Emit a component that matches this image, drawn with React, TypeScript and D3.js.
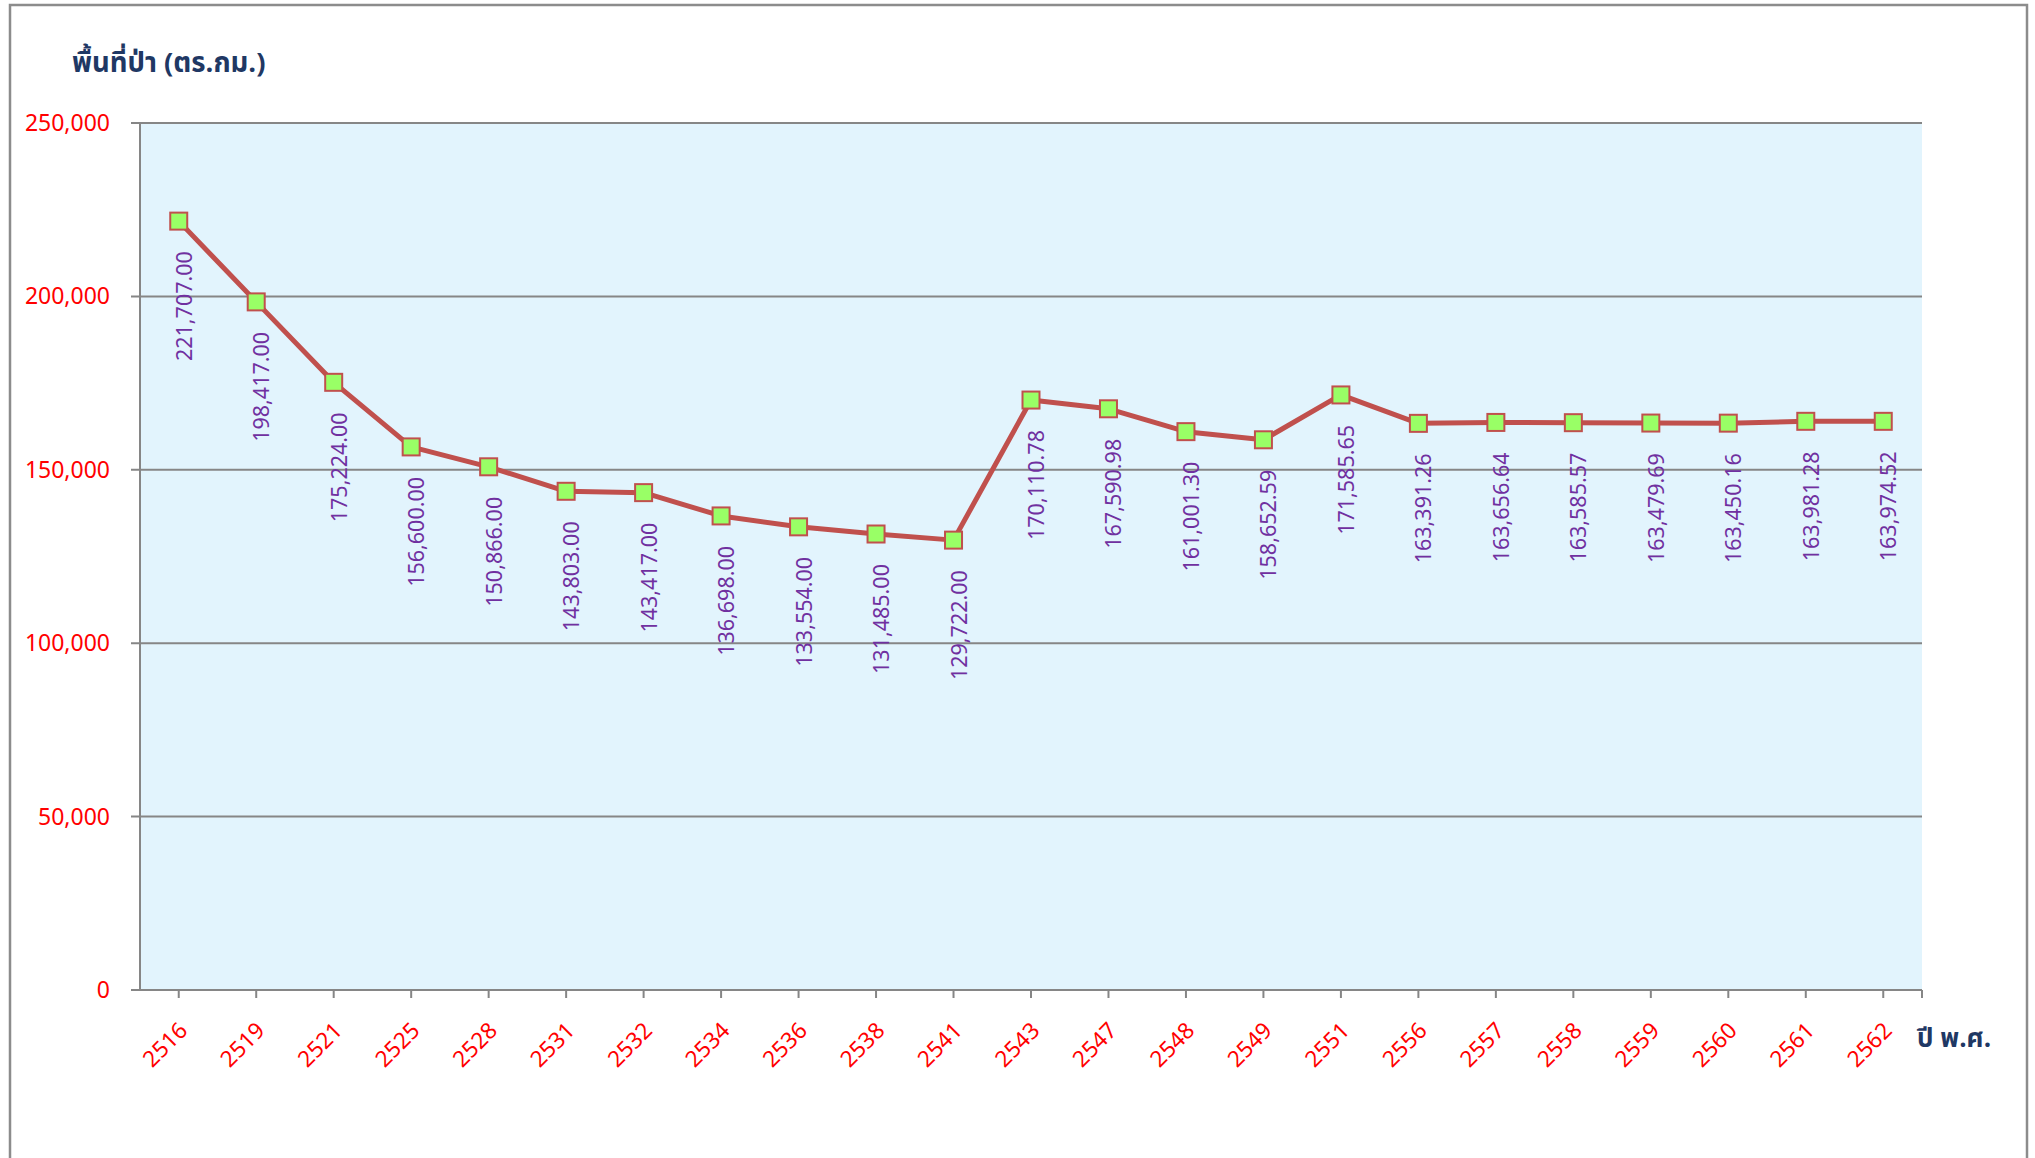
import React from 'react'
import * as d3 from 'd3'

// forest area by Buddhist-era year
const years = ['2516', '2519', '2521', '2525', '2528', '2531', '2532', '2534', '2536', '2538', '2541', '2543',
  '2547', '2548', '2549', '2551', '2556', '2557', '2558', '2559', '2560', '2561', '2562']
const forestArea = [221707, 198417, 175224, 156600, 150866, 143803, 143417, 136698, 133554, 131485, 129722,
  170110.78, 167590.98, 161001.30, 158652.59, 171585.65, 163391.26, 163656.64, 163585.57, 163479.69,
  163450.16, 163981.28, 163974.52]
const yTicks = [0, 50000, 100000, 150000, 200000, 250000]

const W = 2035
const H = 1158
const plot = { left: 140, right: 1922, top: 123, bottom: 990 }

const lineColor = '#C0504D'
const gridColor = '#868686'
const navy = '#1F3864'
const thaiFont = '"Noto Sans Thai", Tahoma, "Noto Sans", sans-serif'
const numFont = 'Tahoma, "Noto Sans", sans-serif'

export default function App() {
  const x = d3.scaleBand<string>().domain(years).range([plot.left, plot.right])
  const y = d3.scaleLinear().domain([0, 250000]).range([plot.bottom, plot.top])
  const cx = (yr: string) => (x(yr) as number) + x.bandwidth() / 2

  const pts: [number, number][] = years.map((yr, i) => [cx(yr), y(forestArea[i])])
  const linePath = d3.line()(pts) as string
  const fmtLabel = d3.format(',.2f')
  const fmtTick = d3.format(',')

  return (
    <svg width={W} height={H} style={{ position: 'absolute', left: 0, top: 0 }}>
      <rect x={0} y={0} width={W} height={H} fill='white' />
      {/* outer chart frame */}
      <rect x={10} y={5} width={2017} height={1200} fill='none' stroke='#8c8c8c' strokeWidth={2.5} />

      <text x={72} y={72} fill={navy} fontFamily={thaiFont} fontWeight='bold' fontSize={27.5}>
        พื้นที่ป่า (ตร.กม.)
      </text>

      <rect x={plot.left} y={plot.top} width={plot.right - plot.left} height={plot.bottom - plot.top} fill='#E2F4FD' />

      {/* gridlines + y ticks */}
      {yTicks.map(t => (
        <g key={'g' + t}>
          <line x1={131} x2={plot.right} y1={y(t)} y2={y(t)} stroke={gridColor} strokeWidth={2} />
          <text x={110} y={y(t)} dy='0.35em' textAnchor='end' fill='red' fontFamily={numFont} fontSize={23}>
            {fmtTick(t)}
          </text>
        </g>
      ))}
      <line x1={plot.left} x2={plot.left} y1={plot.top} y2={plot.bottom} stroke={gridColor} strokeWidth={2} />

      {/* x ticks & labels */}
      {years.map(yr => (
        <g key={'x' + yr}>
          <line x1={cx(yr)} x2={cx(yr)} y1={plot.bottom} y2={plot.bottom + 8} stroke={gridColor} strokeWidth={2} />
          <text
            x={cx(yr) + 10} y={1032}
            transform={'rotate(-45,' + (cx(yr) + 10) + ',1032)'}
            textAnchor='end' fill='red' fontFamily={numFont} fontSize={22.5}>
            {yr}
          </text>
        </g>
      ))}
      <line x1={plot.right} x2={plot.right} y1={plot.bottom} y2={plot.bottom + 8} stroke={gridColor} strokeWidth={2} />

      <text x={1917} y={1047} fill={navy} fontFamily={thaiFont} fontWeight='bold' fontSize={26}>
        ปี พ.ศ.
      </text>

      <path d={linePath} fill='none' stroke={lineColor} strokeWidth={5} strokeLinejoin='round' />

      {pts.map(([px, py], i) => (
        <g key={'p' + i}>
          <rect x={px - 8.5} y={py - 8.5} width={17} height={17} fill='#99FF66' stroke={lineColor} strokeWidth={2} />
          <text
            x={px + 13} y={py + 30}
            transform={'rotate(-90,' + (px + 13) + ',' + (py + 30) + ')'}
            textAnchor='end' fill='#7030A0' fontFamily={numFont} fontSize={21.5}>
            {fmtLabel(forestArea[i])}
          </text>
        </g>
      ))}
    </svg>
  )
}
